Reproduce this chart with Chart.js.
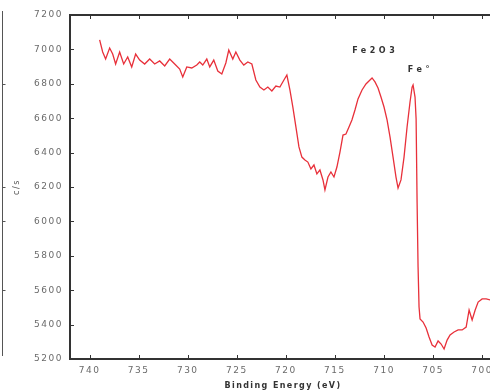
<!DOCTYPE html>
<html>
<head>
<meta charset="utf-8">
<script src="https://cdn.jsdelivr.net/npm/chart.js@4"></script>
<style>
  html, body { margin: 0; padding: 0; background: #fff; }
  #wrap { width: 490px; height: 392px; }
</style>
</head>
<body>
<div id="wrap"><canvas id="xps"></canvas></div>
<script>
// Binding energy (eV) and counts (c/s)
const energy = [738.98, 738.67, 738.37, 737.96, 737.65, 737.35, 736.94, 736.53, 736.12, 735.71,
  735.31, 734.90, 734.39, 733.88, 733.37, 732.86, 732.35, 731.84, 731.33, 730.82,
  730.51, 730.10, 729.59, 729.08, 728.78, 728.47, 728.06, 727.76, 727.35, 726.94,
  726.53, 726.12, 725.82, 725.41, 725.10, 724.69, 724.29, 723.88, 723.47, 723.06,
  722.65, 722.24, 721.84, 721.43, 721.02, 720.61, 720.20, 719.90, 719.59, 719.29,
  718.98, 718.67, 718.37, 718.06, 717.76, 717.45, 717.14, 716.84, 716.53, 716.22,
  716.02, 715.71, 715.41, 715.10, 714.80, 714.49, 714.18, 713.88, 713.57, 713.27,
  712.96, 712.65, 712.24, 711.84, 711.43, 711.22, 710.92, 710.61, 710.31, 710.00,
  709.69, 709.39, 709.08, 708.78, 708.57, 708.27, 707.96, 707.65, 707.35, 707.14,
  707.04, 706.84, 706.73, 706.63, 706.53, 706.43, 706.33, 706.02, 705.71, 705.41,
  705.10, 704.80, 704.49, 704.18, 703.88, 703.57, 703.27, 702.86, 702.45, 702.04,
  701.63, 701.33, 701.02, 700.71, 700.41, 700.00, 699.59, 699.18];
const counts = [7055, 6985, 6944, 7008, 6973, 6915, 6985, 6915, 6956, 6898,
  6973, 6938, 6915, 6944, 6915, 6933, 6904, 6944, 6915, 6886,
  6840, 6898, 6892, 6909, 6927, 6909, 6944, 6898, 6938, 6874,
  6857, 6921, 6996, 6944, 6985, 6938, 6909, 6927, 6915, 6822,
  6781, 6764, 6781, 6758, 6787, 6781, 6822, 6851, 6764, 6665,
  6549, 6433, 6374, 6357, 6345, 6305, 6328, 6276, 6299, 6241,
  6183, 6258, 6287, 6258, 6316, 6403, 6502, 6508, 6549, 6590,
  6648, 6712, 6764, 6799, 6822, 6834, 6811, 6776, 6723, 6665,
  6590, 6491, 6374, 6258, 6194, 6241, 6374, 6549, 6694, 6781,
  6793, 6723, 6595, 6113, 5735, 5502, 5433, 5415, 5380, 5328,
  5281, 5270, 5305, 5287, 5258, 5310, 5340, 5357, 5369, 5369,
  5386, 5485, 5427, 5485, 5531, 5549, 5549, 5543];

const xTicks = [740, 735, 730, 725, 720, 715, 710, 705, 700];
const yTicks = [5200, 5400, 5600, 5800, 6000, 6200, 6400, 6600, 6800, 7000, 7200];
const peakLabels = [
  { text: 'Fe2O3', e: 711.1, c: 6990 },
  { text: 'Fe\u00b0', e: 706.5, c: 6880 }
];

const points = energy.map((e, i) => ({ x: e, y: counts[i] }));
const axisColor = '#333';
const labelColor = '#6a6a6a';

// top edge, inward tick marks, peak names, x title and the stray panel edge at the far left
const framePlugin = {
  id: 'frame',
  beforeDraw(chart) {
    chart.ctx.letterSpacing = '1.5px';
  },
  afterDraw(chart) {
    const { ctx, chartArea: a, scales: { x, y } } = chart;
    ctx.save();
    ctx.strokeStyle = axisColor;
    ctx.lineWidth = 2;
    ctx.beginPath();
    ctx.moveTo(a.right, a.top);
    ctx.lineTo(a.left, a.top);
    ctx.stroke();

    ctx.lineWidth = 1;
    ctx.beginPath();
    xTicks.forEach(t => {
      const px = Math.round(x.getPixelForValue(t)) + 0.5;
      ctx.moveTo(px, a.bottom); ctx.lineTo(px, a.bottom - 4);
      ctx.moveTo(px, a.top); ctx.lineTo(px, a.top + 4);
    });
    yTicks.forEach(t => {
      const py = Math.round(y.getPixelForValue(t)) + 0.5;
      ctx.moveTo(a.left, py); ctx.lineTo(a.left + 4, py);
    });
    ctx.stroke();

    // edge of the neighbouring panel
    ctx.strokeStyle = '#555';
    ctx.beginPath();
    ctx.moveTo(2.5, a.top - 4);
    ctx.lineTo(2.5, a.bottom - 3);
    [6800, 6200, 6000, 5600].forEach(t => {
      const py = Math.round(y.getPixelForValue(t)) + 0.5;
      ctx.moveTo(2.5, py); ctx.lineTo(5.5, py);
    });
    ctx.stroke();

    ctx.fillStyle = '#333';
    ctx.textAlign = 'center';
    ctx.textBaseline = 'middle';
    ctx.font = 'bold 8px "DejaVu Sans"';
    ctx.letterSpacing = '3.5px';
    peakLabels.forEach(p => {
      ctx.fillText(p.text, x.getPixelForValue(p.e) + 2, y.getPixelForValue(p.c));
    });

    ctx.letterSpacing = '1.4px';
    ctx.fillText('Binding Energy (eV)', 283, 386);
    ctx.restore();
  }
};

new Chart(document.getElementById('xps'), {
  type: 'line',
  data: {
    datasets: [{
      data: points,
      borderColor: '#e8303a',
      borderWidth: 1.3,
      pointRadius: 0,
      tension: 0,
      fill: false
    }]
  },
  options: {
    responsive: true,
    maintainAspectRatio: false,
    animation: false,
    layout: { padding: { top: 15, right: 0, left: 0, bottom: 0 } },
    plugins: { legend: { display: false }, tooltip: { enabled: false } },
    scales: {
      x: {
        type: 'linear',
        reverse: true,
        min: 699.2,
        max: 742,
        afterBuildTicks: s => { s.ticks = xTicks.map(v => ({ value: v })); },
        afterFit: s => { s.height = 33; s.paddingLeft = 0; s.paddingRight = 0; },
        grid: { display: false, drawTicks: false },
        border: { display: true, color: axisColor, width: 2 },
        ticks: {
          padding: 6,
          color: labelColor,
          font: { family: 'DejaVu Sans', size: 9 },
          maxRotation: 0
        }
      },
      y: {
        min: 5200,
        max: 7200,
        afterBuildTicks: s => { s.ticks = yTicks.map(v => ({ value: v })); },
        afterFit: s => { s.width = 70; s.paddingTop = 0; s.paddingBottom = 0; },
        grid: { display: false, drawTicks: false },
        border: { display: true, color: axisColor, width: 2 },
        ticks: {
          padding: 7,
          color: labelColor,
          font: { family: 'DejaVu Sans', size: 9 },
          callback: v => String(v)
        },
        title: {
          display: true,
          text: 'c/s',
          color: '#555',
          font: { family: 'DejaVu Sans', size: 8 },
          padding: { top: 12, bottom: 0 }
        }
      }
    }
  },
  plugins: [framePlugin]
});
</script>
</body>
</html>
